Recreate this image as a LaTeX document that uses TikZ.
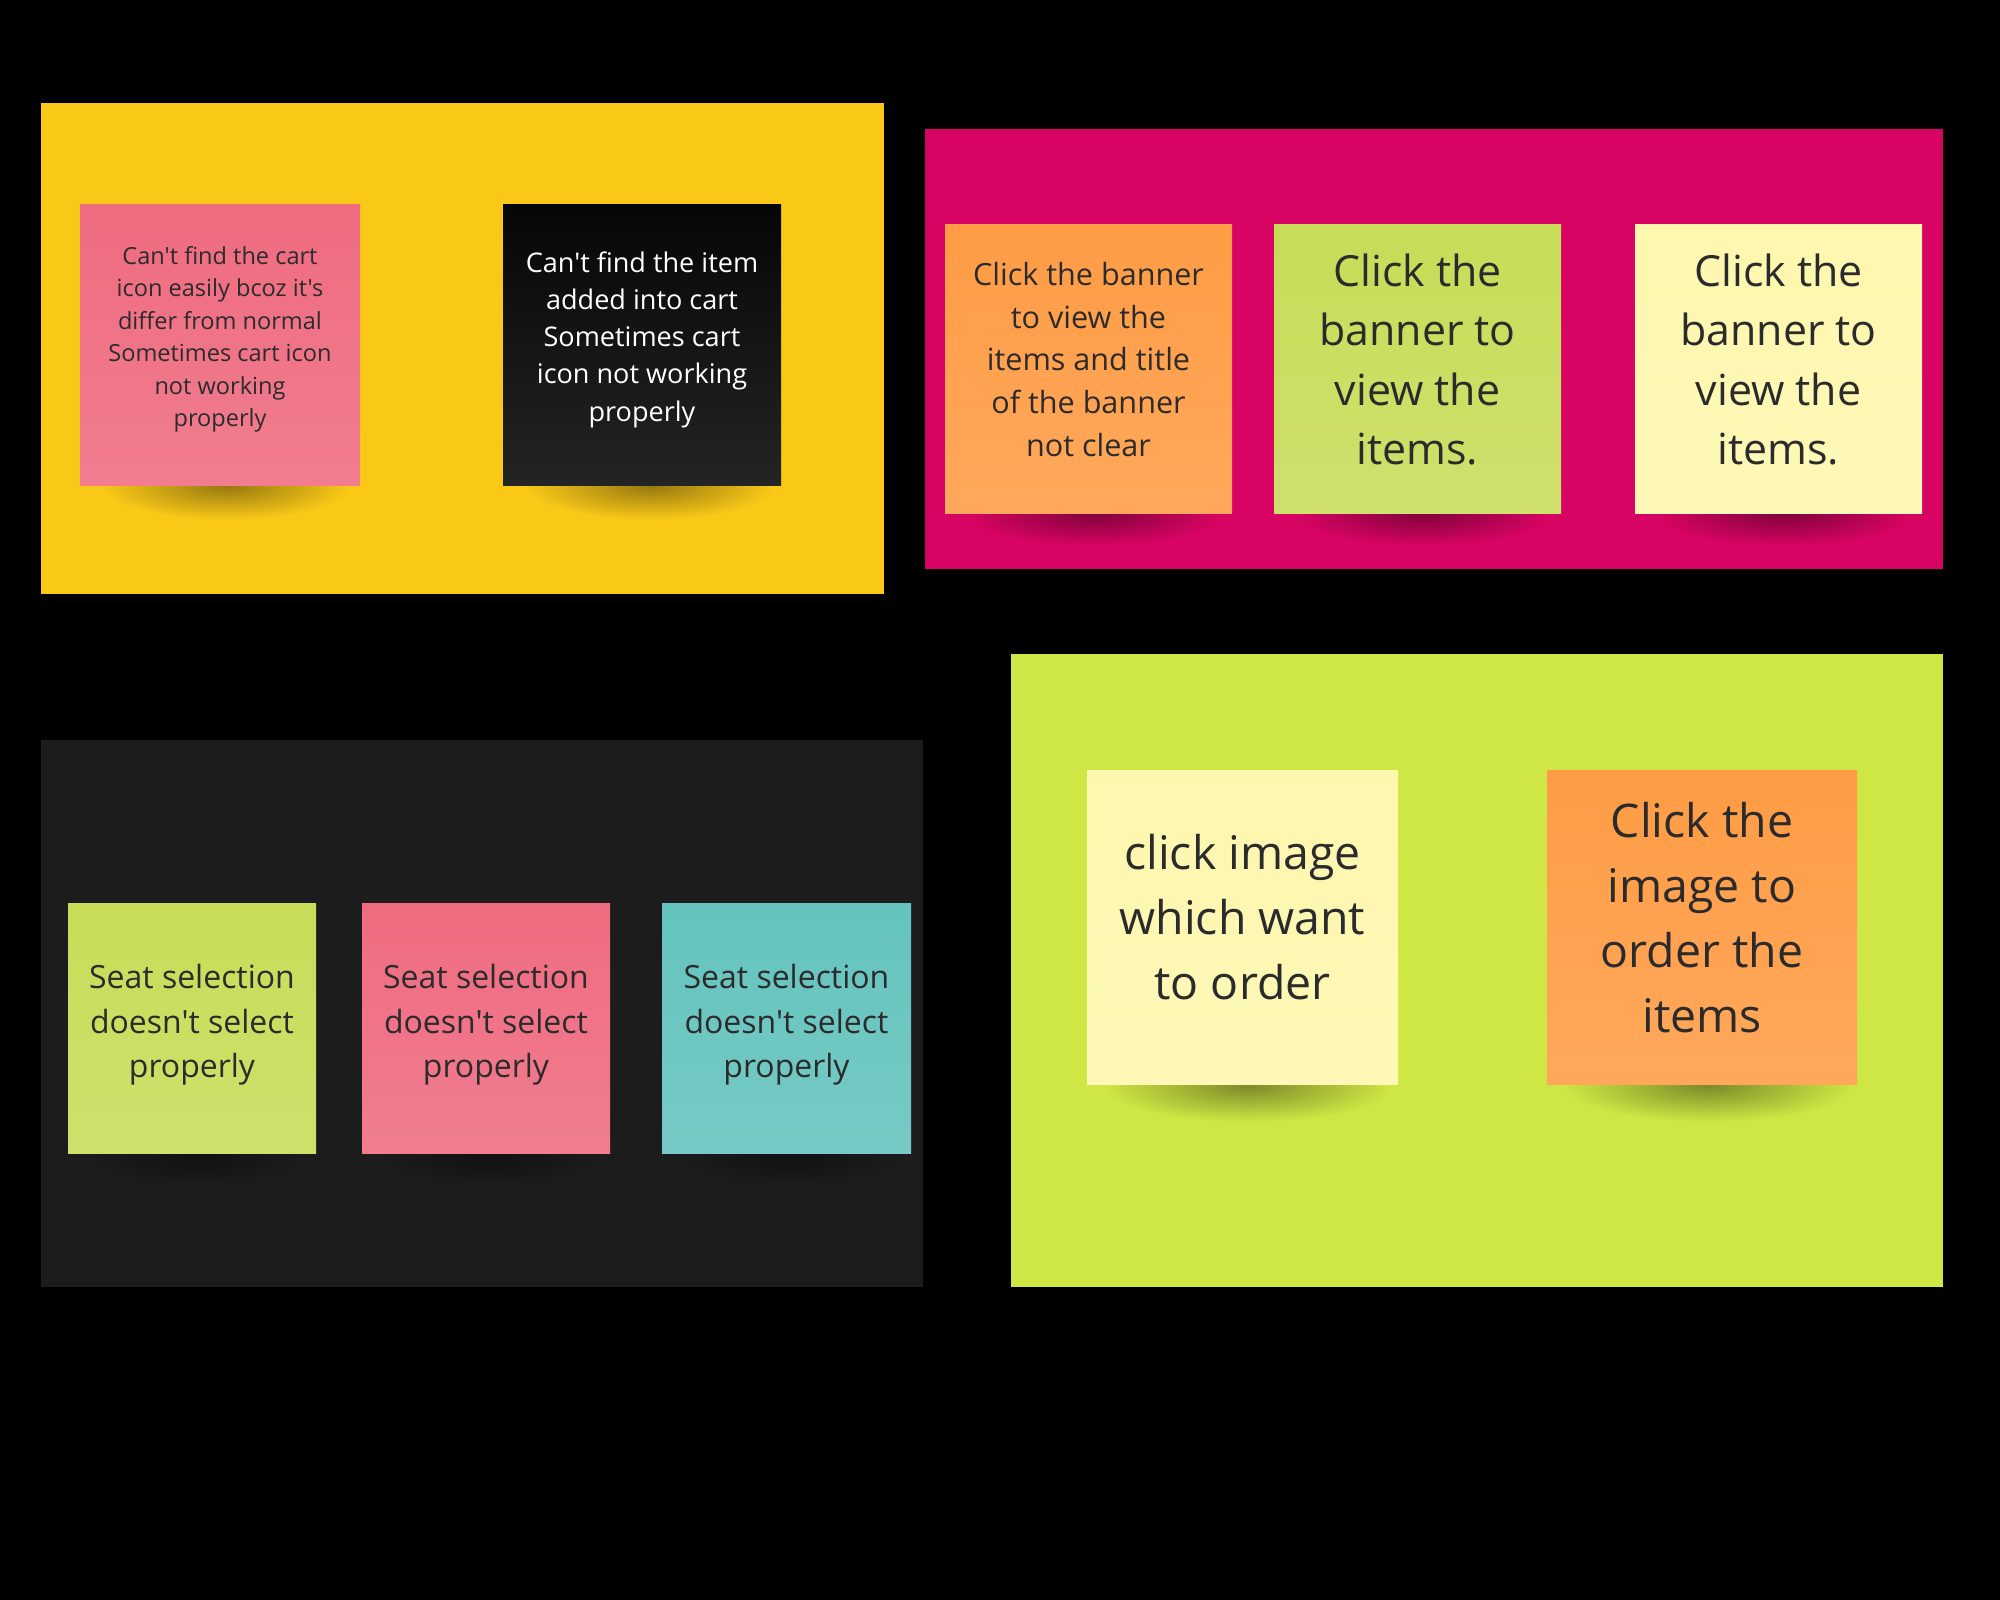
\documentclass[tikz,border=0pt]{standalone}
\usepackage{fontspec}
\newfontfamily\notefont{Open Sans}

\definecolor{boardyellow}{HTML}{FAC918}
\definecolor{boardpink}{HTML}{D80463}
\definecolor{boarddark}{HTML}{1C1C1C}
\definecolor{boardlime}{HTML}{CFE744}
\definecolor{notepink}{HTML}{EF6B80}
\definecolor{noteblack}{HTML}{060606}
\definecolor{noteorange}{HTML}{FF9C45}
\definecolor{notegreen}{HTML}{C8DC58}
\definecolor{notecream}{HTML}{FEF7AE}
\definecolor{noteteal}{HTML}{64C3BD}
\definecolor{notetext}{HTML}{2B2B2B}

\begin{document}
\begin{tikzpicture}[x=0.1mm, y=-0.1mm,
        note/.style={top color=#1, bottom color=#1!88!white, inner sep=0pt},
        undershade/.style={inner color=#1!60!black, outer color=#1},
        notetxt/.style={align=center, text=notetext, inner sep=0pt},
        fontA/.style={font=\notefont\fontsize{6.7}{9.25}\selectfont},
        fontB/.style={font=\notefont\fontsize{7.7}{10.6}\selectfont},
        fontC/.style={font=\notefont\fontsize{8.7}{12.2}\selectfont},
        fontD/.style={font=\notefont\fontsize{12.2}{16.9}\selectfont},
        fontS/.style={font=\notefont\fontsize{9.1}{12.7}\selectfont},
        fontL/.style={font=\notefont\fontsize{13.2}{18.5}\selectfont}]
            \useasboundingbox (0,0) rectangle (2000,1600);
            \fill[black] (0,0) rectangle (2000,1600);

            % boards
            \fill[boardyellow] (41,103) rectangle (884,594);
            \fill[boardpink] (925,129) rectangle (1943,569);
            \fill[boarddark] (41,740) rectangle (923,1287);
            \fill[boardlime] (1011,654) rectangle (1943,1287);

            % shadows under the notes
            \begin{scope}
                \clip (41,103) rectangle (884,594);
                \shade[undershade=boardyellow] (226,486) ellipse (12.5mm and 3.4mm);
                \shade[undershade=boardyellow] (650,486) ellipse (12.5mm and 3.4mm);
            \end{scope}
            \begin{scope}
                \clip (925,129) rectangle (1943,569);
                \shade[undershade=boardpink] (1094,514) ellipse (13mm and 3.2mm);
                \shade[undershade=boardpink] (1423,514) ellipse (13mm and 3.2mm);
                \shade[undershade=boardpink] (1784,514) ellipse (13mm and 3.2mm);
            \end{scope}
            \begin{scope}
                \clip (41,740) rectangle (923,1287);
                \shade[undershade=boarddark] (196,1155) ellipse (11.5mm and 3.2mm);
                \shade[undershade=boarddark] (490,1155) ellipse (11.5mm and 3.2mm);
                \shade[undershade=boarddark] (791,1155) ellipse (11.5mm and 3.2mm);
            \end{scope}
            \begin{scope}
                \clip (1011,654) rectangle (1943,1287);
                \shade[undershade=boardlime] (1248,1086) ellipse (14.5mm and 3.6mm);
                \shade[undershade=boardlime] (1708,1086) ellipse (14.5mm and 3.6mm);
            \end{scope}

            % yellow board
            \node[note=notepink, minimum width=28mm, minimum height=28.1mm] (cartA) at (220,344.5) {};
            \node[notetxt, fontA] (cartAtxt) at ([yshift=0.5mm]cartA.center)
                {Can't find the cart\\icon easily bcoz it's\\differ from normal\\Sometimes cart icon\\not working\\properly};
            \node[note=noteblack, minimum width=27.8mm, minimum height=28.1mm] (cartB) at (642,344.5) {};
            \node[notetxt, fontB, text=white] (cartBtxt) at ([yshift=0.5mm]cartB.center)
                {Can't find the item\\added into cart\\Sometimes cart\\icon not working\\properly};

            % pink board
            \node[note=noteorange, minimum width=28.7mm, minimum height=28.9mm] (bannerA) at (1088.5,368.5) {};
            \node[notetxt, fontC] (bannerAtxt) at ([yshift=0.9mm]bannerA.center)
                {Click the banner\\to view the\\items and title\\of the banner\\not clear};
            \node[note=notegreen, minimum width=28.7mm, minimum height=28.9mm] (bannerB) at (1417.5,368.5) {};
            \node[notetxt, fontD] (bannerBtxt) at ([yshift=0.9mm]bannerB.center)
                {Click the\\banner to\\view the\\items.};
            \node[note=notecream, minimum width=28.7mm, minimum height=28.9mm] (bannerC) at (1778.5,368.5) {};
            \node[notetxt, fontD] (bannerCtxt) at ([yshift=0.9mm]bannerC.center)
                {Click the\\banner to\\view the\\items.};

            % dark board
            \node[note=notegreen, minimum width=24.8mm, minimum height=25mm] (seatA) at (192,1028) {};
            \node[notetxt, fontS] (seatAtxt) at ([yshift=0.3mm]seatA.center)
                {Seat selection\\doesn't select\\properly};
            \node[note=notepink, minimum width=24.8mm, minimum height=25mm] (seatB) at (486,1028) {};
            \node[notetxt, fontS] (seatBtxt) at ([yshift=0.3mm]seatB.center)
                {Seat selection\\doesn't select\\properly};
            \node[note=noteteal, minimum width=24.9mm, minimum height=25mm] (seatC) at (786.5,1028) {};
            \node[notetxt, fontS] (seatCtxt) at ([yshift=0.3mm]seatC.center)
                {Seat selection\\doesn't select\\properly};

            % lime board
            \node[note=notecream, minimum width=31.1mm, minimum height=31.4mm] (orderA) at (1242.5,927) {};
            \node[notetxt, fontL] (orderAtxt) at ([yshift=1mm]orderA.center)
                {click image\\which want\\to order};
            \node[note=noteorange, minimum width=31mm, minimum height=31.4mm] (orderB) at (1702,927) {};
            \node[notetxt, fontL] (orderBtxt) at ([yshift=0.9mm]orderB.center)
                {Click the\\image to\\order the\\items};
        \end{tikzpicture}
\end{document}
